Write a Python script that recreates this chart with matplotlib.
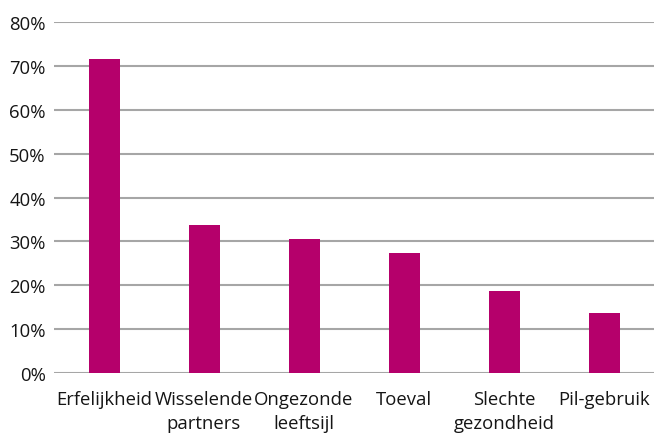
import matplotlib
matplotlib.use("Agg")
import matplotlib.pyplot as plt
from matplotlib.ticker import FuncFormatter

categories = ["Erfelijkheid", "Wisselende\npartners", "Ongezonde\nleeftsijl", "Toeval", "Slechte\ngezondheid", "Pil-gebruik"]
values = [71.5, 33.7, 30.5, 27.3, 18.6, 13.6]
yticks = [0, 10, 20, 30, 40, 50, 60, 70, 80]

plt.rcParams['font.family'] = ['Open Sans', 'DejaVu Sans']

fig = plt.figure(figsize=(6.54, 4.35), dpi=100)
ax = fig.add_axes([54/654, 1-374/435, 600/654, (374-23)/435])

ax.bar(range(len(categories)), values, width=0.31, color="#B5006B", zorder=3)
ax.set_xlim(-0.5, len(categories)-0.5)
ax.set_ylim(0, 80)
ax.set_yticks(yticks)
ax.yaxis.set_major_formatter(FuncFormatter(lambda v, p: f"{int(v)}%"))
ax.grid(axis='y', color="#a6a6a6", linewidth=1.5, zorder=0)
ax.set_axisbelow(True)
for s in ax.spines.values():
    s.set_visible(False)
ax.set_xticks(range(len(categories)))
ax.set_xticklabels(categories, linespacing=1.45)
ax.tick_params(axis='both', length=0, labelsize=13.3, colors="#151515")
ax.tick_params(axis='y', pad=6)
ax.tick_params(axis='x', pad=12)

fig.savefig("out.png", dpi=100)
